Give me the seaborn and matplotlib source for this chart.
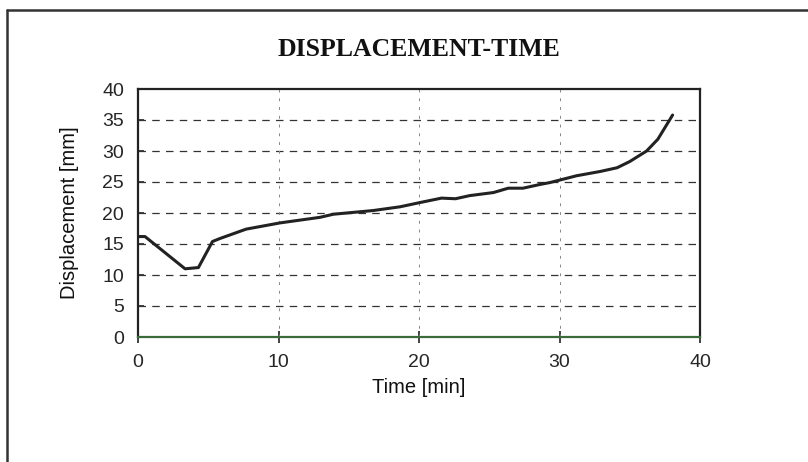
import matplotlib
matplotlib.use("Agg")
import matplotlib.pyplot as plt
import seaborn as sns
import pandas as pd
from matplotlib.lines import Line2D

time_min = [0.0, 0.5, 3.35, 4.3, 5.3, 5.85, 7.7, 10.1, 12.95, 13.9, 16.75, 18.65,
            20.1, 21.6, 22.6, 23.6, 25.3, 26.35, 27.4, 28.6, 29.3, 30.0, 31.2,
            32.9, 34.1, 35.0, 36.2, 37.0, 38.05]
displacement_mm = [16.2, 16.2, 11.0, 11.2, 15.4, 15.9, 17.4, 18.4, 19.3, 19.8, 20.4, 21.0,
                   21.7, 22.4, 22.3, 22.8, 23.3, 24.0, 24.0, 24.6, 24.9, 25.3, 26.0,
                   26.7, 27.3, 28.3, 30.0, 31.9, 35.8]
x_ticks = [0, 10, 20, 30, 40]
y_ticks = [0, 5, 10, 15, 20, 25, 30, 35, 40]

sns.set_theme(style="white")
plt.rcParams['font.family'] = ['Liberation Sans', 'DejaVu Sans']

df = pd.DataFrame({"Time": time_min, "Displacement": displacement_mm})

fig = plt.figure(figsize=(8.08, 4.62), dpi=100)
ax = fig.add_axes([138/808, 1-337/462, (700-138)/808, (337-89)/462])

# grid
for yv in y_ticks[1:-1]:
    ax.axhline(yv, color="#333333", lw=0.9, ls=(0, (6, 5)), zorder=1)
for xv in x_ticks[1:-1]:
    ax.axvline(xv, color="#888888", lw=0.7, ls=(0, (3, 6)), zorder=1)

sns.lineplot(data=df, x="Time", y="Displacement", ax=ax, color="#222222",
             lw=2.2, zorder=3, estimator=None, sort=False)

ax.set_xlim(0, 40)
ax.set_ylim(0, 40)
ax.set_xticks(x_ticks)
ax.set_yticks(y_ticks)
ax.tick_params(axis="x", direction="inout", length=8, width=1.2, labelsize=14,
               pad=8, color="#222222", bottom=True)
ax.tick_params(axis="y", direction="in", length=4, width=1.2, labelsize=14,
               pad=10, color="#222222", left=True)
for s in ax.spines.values():
    s.set_visible(True)
    s.set_color("#222222")
    s.set_linewidth(1.6)
ax.spines["bottom"].set_color("#3a6b3a")

ax.set_xlabel("Time [min]", fontsize=14.5, labelpad=5, color="#111111")
ax.set_ylabel("Displacement [mm]", fontsize=14.5, labelpad=17, color="#111111")

fig.text(0.5 * (138 + 700) / 808, 1 - 50 / 462, "DISPLACEMENT-TIME",
         ha="center", va="center", fontsize=18.5, fontweight="bold",
         family=["Liberation Serif", "DejaVu Serif"], color="#111111")

# outer frame (top and left edges)
fig.add_artist(Line2D([7/808, 1.0], [1 - 10/462, 1 - 10/462], transform=fig.transFigure,
                      color="#333333", lw=1.8))
fig.add_artist(Line2D([7/808, 7/808], [0.0, 1 - 10/462], transform=fig.transFigure,
                      color="#333333", lw=1.8))

fig.savefig("out.png", dpi=100)
